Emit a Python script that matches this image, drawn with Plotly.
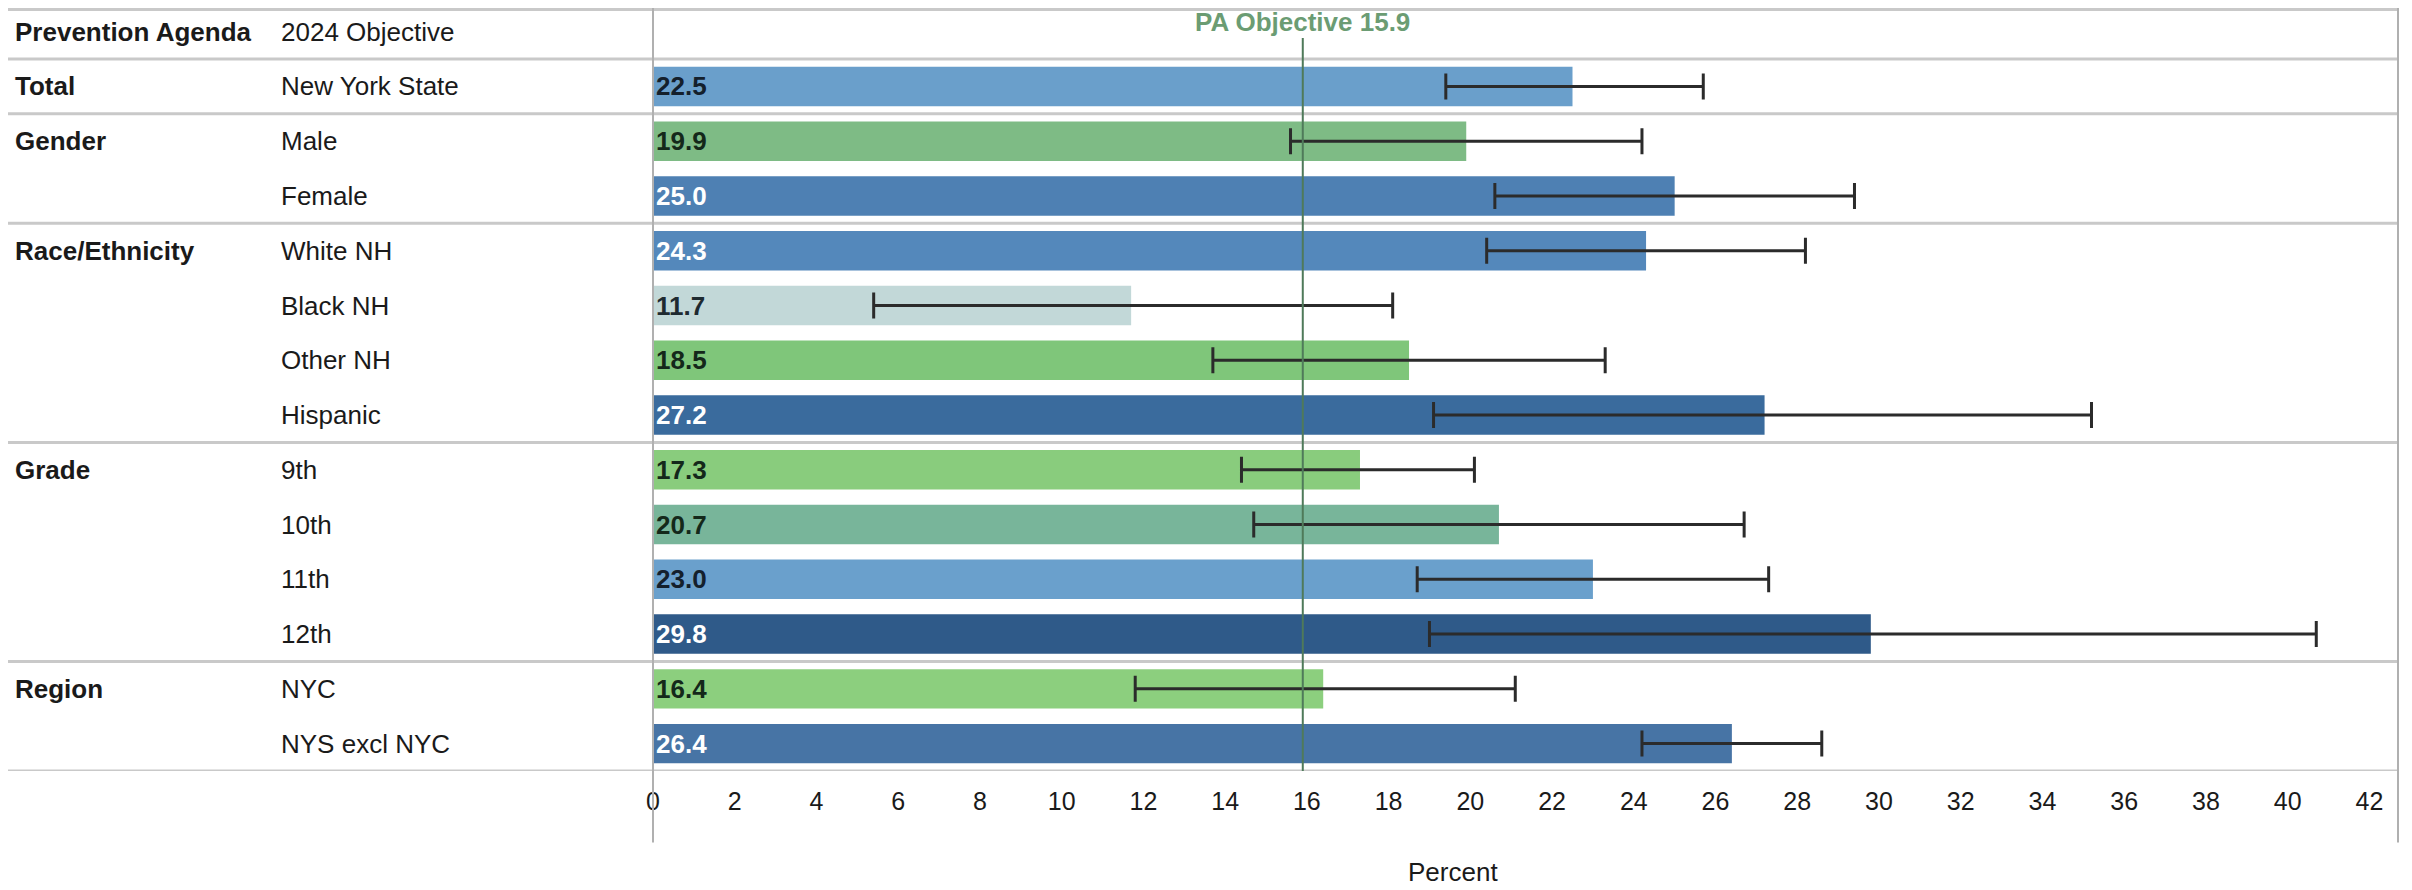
import plotly.graph_objects as go

# ---------------- data ----------------
groups = ["Total", "Gender", "", "Race/Ethnicity", "", "", "", "Grade", "", "", "", "Region", ""]
categories = ["New York State", "Male", "Female", "White NH", "Black NH", "Other NH", "Hispanic",
              "9th", "10th", "11th", "12th", "NYC", "NYS excl NYC"]
values = [22.5, 19.9, 25.0, 24.3, 11.7, 18.5, 27.2, 17.3, 20.7, 23.0, 29.8, 16.4, 26.4]
ci_low = [19.4, 15.6, 20.6, 20.4, 5.4, 13.7, 19.1, 14.4, 14.7, 18.7, 19.0, 11.8, 24.2]
ci_high = [25.7, 24.2, 29.4, 28.2, 18.1, 23.3, 35.2, 20.1, 26.7, 27.3, 40.7, 21.1, 28.6]
bar_colors = ["#6a9fcb", "#7ebb85", "#4e80b3", "#5488bb", "#c2d8d8", "#7fc67a", "#3a6b9d",
              "#89cc7d", "#78b59a", "#6aa0cc", "#2f5a89", "#8ccf7e", "#4774a5"]
label_colors = ["#14202c", "#14281a", "#ffffff", "#ffffff", "#1e2a30", "#14281a", "#ffffff",
                "#14281a", "#14281a", "#14202c", "#ffffff", "#14281a", "#ffffff"]
header_left = "Prevention Agenda"
header_right = "2024 Objective"
objective = 15.9
objective_label = "PA Objective 15.9"
x_ticks = list(range(0, 43, 2))
x_title = "Percent"
separator_rows = [0, 1, 3, 7, 11, 13]  # separator below these rows (row 0 = header)

# ---------------- geometry (page pixels; the page body adds an 8px offset) ----------------
OFF = 8
PAGE_W, PAGE_H = 2412, 890
W, H = PAGE_W - OFF, PAGE_H - OFF
L, R = 653, 2398          # plot area left/right (page px)
T, B = OFF, 771.5         # plot area top/bottom (page px)
ROW0, PITCH = 31.7, 54.8  # centre of header row and row pitch (page px)
PW, PH = R - L, B - T
FONT = "Liberation Sans, Arial, sans-serif"
FS = 26


def px_x(px):
    return (px - L) / PW


def px_y(py):
    return 1 - (py - T) / PH


y_top = (T - ROW0) / PITCH
y_bottom = (B - ROW0) / PITCH

rows = list(range(1, len(categories) + 1))

fig = go.Figure()
fig.add_trace(go.Bar(
    x=values, y=rows, orientation="h", width=0.72,
    marker=dict(color=bar_colors, line=dict(width=0)),
    text=[f"{v:.1f}" for v in values],
    textposition="inside", insidetextanchor="start",
    textfont=dict(family=FONT, size=FS, color=label_colors, weight="bold"),
    error_x=dict(type="data", symmetric=False,
                 array=[h - v for h, v in zip(ci_high, values)],
                 arrayminus=[v - l for v, l in zip(values, ci_low)],
                 color="#2b2b2b", thickness=3, width=13),
    hoverinfo="skip", showlegend=False,
))

shapes = []
# top border
shapes.append(dict(type="line", xref="paper", yref="paper",
                   x0=px_x(OFF), x1=px_x(R), y0=px_y(9.5), y1=px_y(9.5),
                   line=dict(color="#c9c9c9", width=3), layer="above"))
# group separators
for r in separator_rows:
    yv = r + 0.5
    shapes.append(dict(type="line", xref="paper", yref="y",
                       x0=px_x(OFF), x1=px_x(R), y0=yv, y1=yv,
                       line=dict(color="#c9c9c9", width=3), layer="above"))
# left axis line and right border
for xp in (L, R):
    shapes.append(dict(type="line", xref="paper", yref="paper",
                       x0=px_x(xp), x1=px_x(xp), y0=1, y1=px_y(843),
                       line=dict(color="#b0b0b0", width=2), layer="above"))
# objective line
shapes.append(dict(type="line", xref="x", yref="paper",
                   x0=objective, x1=objective, y0=px_y(38), y1=px_y(B),
                   line=dict(color="#4f7a5a", width=2), layer="above"))

annotations = []
annotations.append(dict(text=header_left, xref="paper", yref="y", x=px_x(13), y=0,
                        xanchor="left", yanchor="middle", showarrow=False,
                        font=dict(family=FONT, size=FS, color="#1a1a1a", weight="bold")))
annotations.append(dict(text=header_right, xref="paper", yref="y", x=px_x(279), y=0,
                        xanchor="left", yanchor="middle", showarrow=False,
                        font=dict(family=FONT, size=FS, color="#1a1a1a")))
for r, g, c in zip(rows, groups, categories):
    if g:
        annotations.append(dict(text=g, xref="paper", yref="y", x=px_x(13), y=r,
                                xanchor="left", yanchor="middle", showarrow=False,
                                font=dict(family=FONT, size=FS, color="#1a1a1a", weight="bold")))
    annotations.append(dict(text=c, xref="paper", yref="y", x=px_x(279), y=r,
                            xanchor="left", yanchor="middle", showarrow=False,
                            font=dict(family=FONT, size=FS, color="#1a1a1a")))
annotations.append(dict(text=objective_label, xref="x", yref="paper", x=objective, y=px_y(22),
                        xanchor="center", yanchor="middle", showarrow=False,
                        font=dict(family=FONT, size=FS, color="#6b9c73", weight="bold")))
annotations.append(dict(text=x_title, xref="paper", yref="paper", x=px_x(1453), y=px_y(873),
                        xanchor="center", yanchor="middle", showarrow=False,
                        font=dict(family=FONT, size=FS, color="#1a1a1a")))

fig.update_layout(
    width=W, height=H,
    margin=dict(l=L - OFF, r=W - (R - OFF), t=T - OFF, b=H - (B - OFF), pad=0),
    paper_bgcolor="white", plot_bgcolor="white",
    shapes=shapes, annotations=annotations,
    font=dict(family=FONT, size=FS, color="#1a1a1a"),
)
fig.update_xaxes(range=[0, 42.7], tickvals=x_ticks, ticktext=[str(t) for t in x_ticks],
                 showgrid=False, zeroline=False, showline=False, ticks="",
                 ticklabelstandoff=13,
                 tickfont=dict(family=FONT, size=25, color="#1a1a1a"), fixedrange=True)
fig.update_yaxes(range=[y_bottom, y_top], showgrid=False, zeroline=False, showline=False,
                 showticklabels=False, ticks="", fixedrange=True)

fig.write_html("out.html")
